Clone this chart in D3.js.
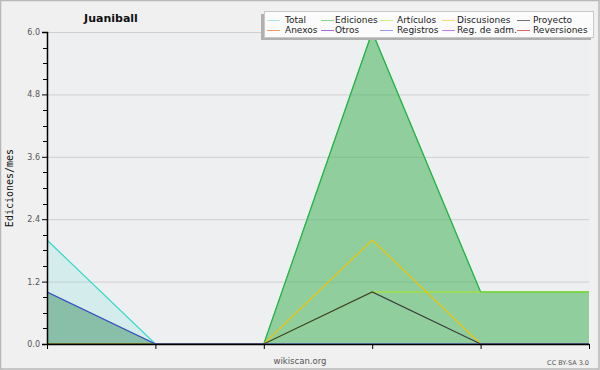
<!DOCTYPE html>
<html><head><meta charset="utf-8">
<script src="https://cdn.jsdelivr.net/npm/d3@7"></script>
<style>body{margin:0;background:#f0f0f0}svg{display:block}</style>
</head><body><svg id="c" width="600" height="370"></svg>
<script>
const categories = ["1", "2", "3", "4", "5", "6"];
const total      = [2, 0, 0, 6, 1, 1];
const ediciones  = [1, 0, 0, 6, 1, 1];
const articulos  = [0, 0, 0, 1, 1, 1];
const discusiones= [0, 0, 0, 2, 0, 0];
const proyecto   = [0, 0, 0, 1, 0, 0];
const registros  = [1, 0, 0, 0, 0, 0];
const yTicks = [0, 1.2, 2.4, 3.6, 4.8, 6.0];
const legendRow1 = ["Total", "Ediciones", "Artículos", "Discusiones", "Proyecto"];
const legendRow2 = ["Anexos", "Otros", "Registros", "Reg. de adm.", "Reversiones"];
const legendColors1 = ["#a8e8e0", "#8ad490", "#cdf080", "#f5d880", "#707070"];
const legendColors2 = ["#f29a60", "#a868ee", "#9898f0", "#cc7ee2", "#e06464"];

const svg = d3.select("#c");
const W = 600, H = 370;
svg.append("rect").attr("x",0.5).attr("y",0.5).attr("width",W-1.5).attr("height",H-1.5)
  .attr("fill","#f0f0f0").attr("stroke","#b8b8b8").attr("stroke-width",1.5);

const x = d3.scalePoint().domain(categories).range([47, 589]);
const y = d3.scaleLinear().domain([0, 6]).range([344, 32]);

svg.append("rect").attr("x",47).attr("y",32).attr("width",542).attr("height",312).attr("fill","#eeeff1");

svg.append("g").selectAll("line").data(yTicks.filter(d=>d>0)).join("line")
  .attr("x1",47).attr("x2",589).attr("y1",d=>y(d)+0.5).attr("y2",d=>y(d)+0.5)
  .attr("stroke","#cfcfcf").attr("stroke-width",1);

const area = vals => d3.area().x((d,i)=>x(categories[i])).y0(y(0)).y1(d=>y(d))(vals);
const line = vals => d3.line().x((d,i)=>x(categories[i])).y(d=>y(d))(vals);

svg.append("path").attr("d",area(total)).attr("fill","#40e0d0").attr("fill-opacity",0.15);
svg.append("path").attr("d",area(ediciones)).attr("fill","#4caf50").attr("fill-opacity",0.5);
svg.append("path").attr("d",area(registros)).attr("fill","#6060f0").attr("fill-opacity",0.14);

const lines = [
  [total, "#30d8c8"],
  [ediciones, "#34b034"],
  [articulos, "#a8e81c"],
  [discusiones, "#f0c400"],
  [proyecto, "#3a3a3a"],
  [registros, "#4848e8"]
];
lines.forEach(([v,c])=>{
  svg.append("path").attr("d",line(v)).attr("fill","none").attr("stroke",c).attr("stroke-width",1.2);
});

const yAxis = d3.axisLeft(y).tickValues(yTicks).tickFormat(d3.format(".1f")).tickSize(5).tickPadding(2);
const gy = svg.append("g").attr("transform","translate(47,0)").call(yAxis);
gy.select(".domain").attr("stroke","#000").attr("stroke-width",1.5);
gy.selectAll(".tick line").attr("stroke","#000");
gy.selectAll("text").attr("font-family","DejaVu Sans").attr("font-size",8).attr("fill","#555");
const minor = d3.range(0, 6.01, 0.3).filter(v=>!yTicks.some(t=>Math.abs(t-v)<1e-6));
svg.append("g").selectAll("line").data(minor).join("line")
  .attr("x1",43).attr("x2",47).attr("y1",d=>Math.round(y(d))+0.5).attr("y2",d=>Math.round(y(d))+0.5)
  .attr("stroke","#000");

const xAxis = d3.axisBottom(x).tickFormat("").tickSize(5).tickSizeOuter(0);
const gx = svg.append("g").attr("transform","translate(0,344)").call(xAxis);
gx.select(".domain").attr("stroke","#000").attr("stroke-width",1.5);
gx.selectAll(".tick line").attr("stroke","#000");

svg.append("text").attr("x",111).attr("y",22).attr("text-anchor","middle")
  .attr("font-family","DejaVu Sans").attr("font-weight","bold").attr("font-size",11).attr("fill","#111").text("Juaniball");
svg.append("text").attr("transform","translate(13,188) rotate(-90)").attr("text-anchor","middle")
  .attr("font-family","DejaVu Sans Mono").attr("font-size",10).attr("fill","#111").text("Ediciones/mes");
svg.append("text").attr("x",300).attr("y",364).attr("text-anchor","middle")
  .attr("font-family","DejaVu Sans").attr("font-size",8.5).attr("fill","#555").text("wikiscan.org");
svg.append("text").attr("x",589).attr("y",365).attr("text-anchor","end")
  .attr("font-family","DejaVu Sans").attr("font-size",6.5).attr("fill","#555").text("CC BY-SA 3.0");

const lg = svg.append("g");
lg.append("rect").attr("x",261).attr("y",14).attr("width",330).attr("height",26).attr("fill","#b0b0b0");
lg.append("rect").attr("x",264.5).attr("y",11.5).attr("width",329).attr("height",26).attr("fill","#fbfbfb").attr("stroke","#c8c8c8");
const colsLine = [267, 321, 380, 442, 517];
const colsText = [285, 335, 397, 457, 533];
[[legendRow1, legendColors1, 20], [legendRow2, legendColors2, 30]].forEach(([names, cols, yy])=>{
  names.forEach((n,i)=>{
    lg.append("line").attr("x1",colsLine[i]).attr("x2",colsLine[i]+13).attr("y1",yy+0.5).attr("y2",yy+0.5)
      .attr("stroke",cols[i]).attr("stroke-width",1);
    lg.append("text").attr("x",colsText[i]).attr("y",yy+3).attr("font-family","DejaVu Sans").attr("font-size",9)
      .attr("fill","#222").text(n);
  });
});
</script></body></html>
